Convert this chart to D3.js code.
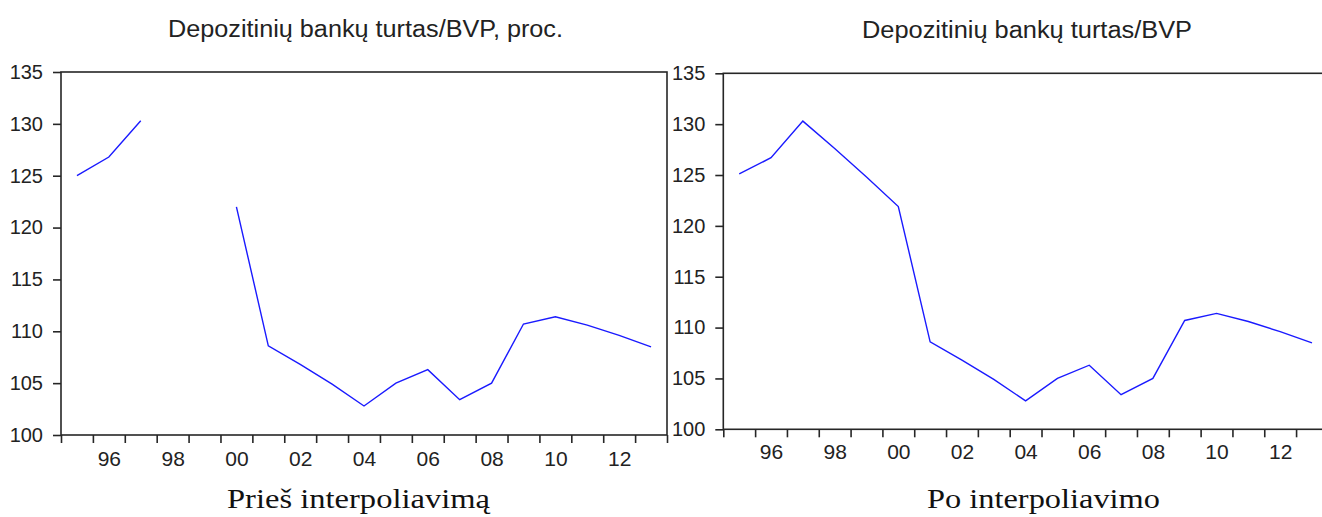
<!DOCTYPE html>
<html>
<head>
<meta charset="utf-8">
<script src="https://cdn.jsdelivr.net/npm/d3@7"></script>
<style>
  html, body { margin: 0; padding: 0; background: #fff; }
  svg { display: block; }
  .tick text { font-family: "Liberation Sans", Arial, sans-serif; fill: #222; }
</style>
</head>
<body>
<svg id="chart" width="1322" height="517"></svg>
<script>
// Annual observations, plotted at mid-year
const years = [1995, 1996, 1997, 1998, 1999, 2000, 2001, 2002, 2003, 2004,
               2005, 2006, 2007, 2008, 2009, 2010, 2011, 2012, 2013];
// Deposit bank assets / GDP, % (missing years as null)
const assetsBefore = [125.0, 126.8, 130.3, null, null, 122.0, 108.6, 106.8, 104.9, 102.8,
                      105.0, 106.3, 103.4, 105.0, 110.7, 111.4, 110.6, 109.6, 108.5];
// Same series with the gap filled in
const assetsAfter  = [125.1, 126.7, 130.3, 127.6, 124.8, 121.9, 108.6, 106.8, 104.9, 102.8,
                      105.0, 106.3, 103.4, 105.0, 110.7, 111.4, 110.6, 109.6, 108.5];

const yTicks = [100, 105, 110, 115, 120, 125, 130, 135];
const xTickYears = [1995, 1996, 1997, 1998, 1999, 2000, 2001, 2002, 2003, 2004,
                    2005, 2006, 2007, 2008, 2009, 2010, 2011, 2012, 2013, 2014];
const xLabelYears = [1996, 1998, 2000, 2002, 2004, 2006, 2008, 2010, 2012];

const titles = ["Depozitinių bankų turtas/BVP, proc.", "Depozitinių bankų turtas/BVP"];
const captions = ["Prieš interpoliavimą", "Po interpoliavimo"];

const svg = d3.select("#chart");

const panels = [
  { values: assetsBefore, x0: 61, x1: 667, y0: 72, y1: 435,
    title: titles[0], titleX: 365.5, titleY: 36.5, titleW: 395,
    caption: captions[0], capX: 358.5, capY: 508, capW: 263, labelPad: 16.5 },
  { values: assetsAfter, x0: 723.3, x1: 1327.9, y0: 73.3, y1: 429.3,
    title: titles[1], titleX: 1027, titleY: 38, titleW: 330,
    caption: captions[1], capX: 1043.5, capY: 508, capW: 233, labelPad: 15 }
];

panels.forEach(p => {
  const x = d3.scaleLinear().domain([1995, 2014]).range([p.x0, p.x1]);
  const y = d3.scaleLinear().domain([100, 135]).range([p.y1, p.y0]);
  const g = svg.append("g");

  // Frame
  g.append("rect")
    .attr("x", p.x0).attr("y", p.y0)
    .attr("width", p.x1 - p.x0).attr("height", p.y1 - p.y0)
    .attr("fill", "none").attr("stroke", "#262626").attr("stroke-width", 1.6);

  // Y axis
  const yAxis = g.append("g")
    .attr("transform", `translate(${p.x0},0)`)
    .call(d3.axisLeft(y).tickValues(yTicks).tickSize(8).tickPadding(10));
  yAxis.select(".domain").remove();
  yAxis.selectAll("line").attr("stroke", "#262626").attr("stroke-width", 1.6);
  yAxis.selectAll("text").style("font-size", "20px");

  // X axis: year-boundary ticks
  const xTicks = g.append("g")
    .attr("transform", `translate(0,${p.y1})`)
    .call(d3.axisBottom(x).tickValues(xTickYears).tickSize(8).tickFormat(""));
  xTicks.select(".domain").remove();
  xTicks.selectAll("line").attr("stroke", "#262626").attr("stroke-width", 1.6);

  // X axis: labels centred within each even year
  const xLabels = g.append("g")
    .attr("transform", `translate(0,${p.y1})`)
    .call(d3.axisBottom(x).tickValues(xLabelYears.map(v => v + 0.5))
      .tickSize(0).tickPadding(p.labelPad)
      .tickFormat(v => String(Math.floor(v) % 100).padStart(2, "0")));
  xLabels.select(".domain").remove();
  xLabels.selectAll("text").style("font-size", "21px");

  // Series line
  const line = d3.line()
    .defined(d => d.v != null)
    .x(d => x(d.year + 0.5))
    .y(d => y(d.v));
  g.append("path")
    .datum(years.map((yr, i) => ({ year: yr, v: p.values[i] })))
    .attr("d", line)
    .attr("fill", "none")
    .attr("stroke", "#1a1aff")
    .attr("stroke-width", 1.4);

  // Title
  g.append("text")
    .attr("x", p.titleX).attr("y", p.titleY)
    .attr("text-anchor", "middle")
    .attr("textLength", p.titleW).attr("lengthAdjust", "spacingAndGlyphs")
    .style("font-family", "'Liberation Sans', Arial, sans-serif")
    .style("font-size", "23px").style("fill", "#222")
    .text(p.title);

  // Caption
  g.append("text")
    .attr("x", p.capX).attr("y", p.capY)
    .attr("text-anchor", "middle")
    .attr("textLength", p.capW).attr("lengthAdjust", "spacingAndGlyphs")
    .style("font-family", "'Liberation Serif', 'Times New Roman', serif")
    .style("font-size", "27px").style("fill", "#111")
    .text(p.caption);
});
</script>
</body>
</html>
